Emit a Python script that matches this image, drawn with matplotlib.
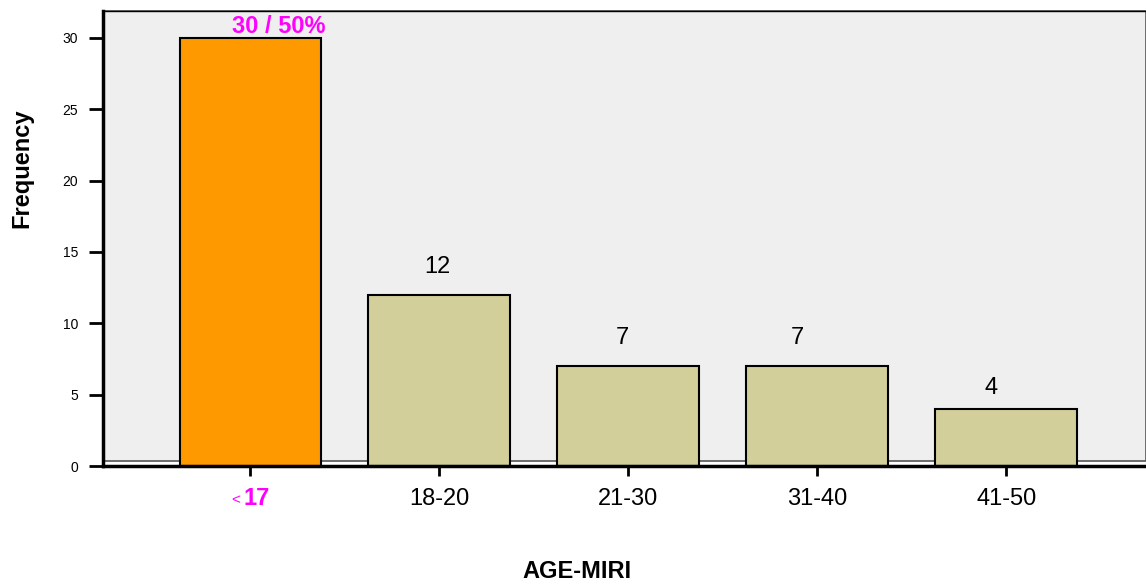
import matplotlib
matplotlib.use("Agg")
import matplotlib.pyplot as plt
from matplotlib.patches import Rectangle

plt.rcParams['font.family'] = ['Liberation Sans', 'DejaVu Sans']

categories = ['<17', '18-20', '21-30', '31-40', '41-50']
counts = [30, 12, 7, 7, 4]
value_labels = ['30 / 50%', '12', '7', '7', '4']

# label placement tweaks (x shift in category units, baseline gap in pixels)
label_dx = [0.15, -0.01, -0.03, -0.105, -0.08]
label_dy = [5, 22, 22, 22, 15]

fig = plt.figure(figsize=(11.46, 5.84), dpi=100)
ax = fig.add_axes([103 / 1146, 1 - 466 / 584, 1 - 103 / 1146, 455 / 584])

x = list(range(len(categories)))
xmin, xmax = -0.78, 4.74
ymax = 455 / 14.27
ax.set_xlim(xmin, xmax)
ax.set_ylim(0, ymax)

# grey panel with its own bottom line a little above zero
ax.add_patch(Rectangle((xmin, 0.33), xmax - xmin, ymax - 0.33,
                       facecolor='#efefef', edgecolor='#555555', lw=1.2,
                       zorder=0, clip_on=False))

colors = ['#ff9900'] + ['#d3cf9a'] * 4
ax.bar(x, counts, width=0.75, color=colors, edgecolor='black', linewidth=1.5, zorder=2)

px = 72 / 100  # points per pixel
for i, (c, lab) in enumerate(zip(counts, value_labels)):
    kw = dict(fontsize=17, color='black')
    if i == 0:
        kw = dict(fontsize=17, fontweight='bold', color='#ff00ff')
    ax.annotate(lab, (i + label_dx[i], c), xytext=(0, label_dy[i] * px),
                textcoords='offset points', ha='center', va='baseline',
                zorder=3, **kw)

ax.set_xticks(x)
ax.set_xticklabels([''] + categories[1:], fontsize=17)
ax.set_yticks([0, 5, 10, 15, 20, 25, 30])
ax.tick_params(axis='y', labelsize=10, length=10, width=2, direction='out', pad=8)
ax.tick_params(axis='x', length=7, width=2, direction='out', pad=9)

# first category label: small '<' then bold '17'
ax.annotate('17', (0, 0), xytext=(6 * px, -39 * px), textcoords='offset points',
            ha='center', va='baseline', fontsize=17, fontweight='bold', color='#ff00ff')
ax.annotate('<', (0, 0), xytext=(-15 * px, -38 * px), textcoords='offset points',
            ha='center', va='baseline', fontsize=11, color='#ff00ff')

ax.spines['right'].set_visible(False)
ax.spines['top'].set_linewidth(1)
ax.spines['left'].set_linewidth(2.5)
ax.spines['bottom'].set_linewidth(2.5)
ax.patch.set_facecolor('white')

fig.text(22 / 1146, 1 - 168 / 584, 'Frequency', rotation=90, ha='center', va='center',
         fontsize=17, fontweight='bold')
fig.text(577 / 1146, 1 - 571 / 584, 'AGE-MIRI', ha='center', va='center',
         fontsize=17, fontweight='bold')

fig.savefig('out.png', dpi=100)
